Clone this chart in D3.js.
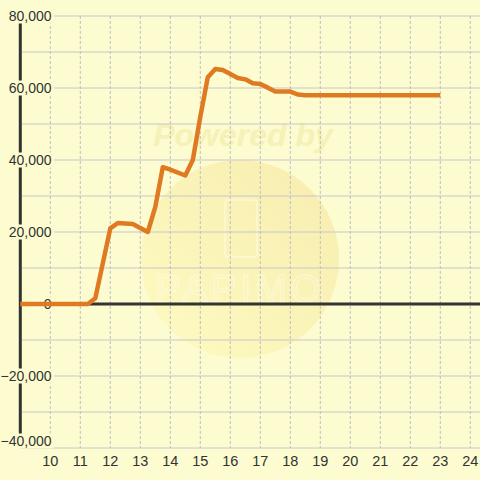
<!DOCTYPE html>
<html>
<head>
<meta charset="utf-8">
<script src="https://cdn.jsdelivr.net/npm/d3@7"></script>
<style>
  body {margin: 0; background: #fcfcd0;}
  svg {display: block;}
  text {font-family: "Liberation Sans", Arial, sans-serif;}
</style>
</head>
<body>
<svg id="chart"></svg>
<script>
//////////////// Daten ////////////////////
const stunden = [9, 11.25, 11.5, 12, 12.25, 12.75, 13.25, 13.5, 13.75, 14, 14.5, 14.75,
  15, 15.25, 15.5, 15.75, 16, 16.25, 16.5, 16.75, 17, 17.25, 17.5, 18, 18.25, 18.5, 23];
const werte = [0, 0, 1600, 21000, 22500, 22200, 20000, 27000, 38000, 37300, 35700, 40000,
  52000, 63000, 65300, 65000, 63900, 62800, 62400, 61300, 61100, 60100, 59000, 59000, 58200, 58000, 58000];

const xTicks = [10, 11, 12, 13, 14, 15, 16, 17, 18, 19, 20, 21, 22, 23, 24];
const yTicks = [-40000, -30000, -20000, -10000, 0, 10000, 20000, 30000, 40000, 50000, 60000, 70000, 80000];
const yLabels = [-40000, -20000, 0, 20000, 40000, 60000, 80000];

//////////////// Konstanten ////////////////////
const W = 480, H = 480,
  bg = "#fcfcd0",
  lineColor = "#e07a22";

const svg = d3.select("#chart").attr("width", W).attr("height", H);
svg.append("rect").attr("width", W).attr("height", H).attr("fill", bg);

const x = d3.scaleLinear().domain([9, 24]).range([20.3, 470.3]);
const y = d3.scaleLinear().domain([-40000, 80000]).range([448, 16]);

//////////////// Wasserzeichen ///////////////
const defs = svg.append("defs");
const grad = defs.append("linearGradient").attr("id", "wm")
  .attr("x1", "0%").attr("y1", "100%").attr("x2", "100%").attr("y2", "0%");
grad.append("stop").attr("offset", "0%").attr("stop-color", "#fff8a8").attr("stop-opacity", 0.35);
grad.append("stop").attr("offset", "100%").attr("stop-color", "#f0d070").attr("stop-opacity", 0.35);

const wm = svg.append("g").attr("class", "watermark");
wm.append("circle").attr("cx", 240).attr("cy", 259).attr("r", 99).attr("fill", "url(#wm)");
wm.append("text")
  .attr("x", 243).attr("y", 146)
  .attr("text-anchor", "middle")
  .style("font-size", "32px").style("font-weight", "bold").style("font-style", "italic")
  .attr("fill", "#f3eaa6").attr("opacity", 0.6)
  .text("Powered by");
wm.append("rect")
  .attr("x", 225).attr("y", 200).attr("width", 32).attr("height", 57).attr("rx", 3)
  .attr("fill", "none").attr("stroke", "#fffbe0").attr("stroke-width", 1.5).attr("opacity", 0.7);
wm.append("text")
  .attr("x", 240).attr("y", 302)
  .attr("text-anchor", "middle")
  .style("font-size", "38px").style("letter-spacing", "4px")
  .attr("fill", "none").attr("stroke", "#fffbe0").attr("stroke-width", 1.2).attr("opacity", 0.7)
  .text("PAPIMO");

//////////////// Gitter ///////////////
svg.append("g").selectAll("line.hgrid")
  .data(yTicks)
  .enter().append("line")
  .attr("class", "hgrid")
  .attr("x1", x(9)).attr("x2", W)
  .attr("y1", d => y(d)).attr("y2", d => y(d))
  .attr("stroke", "#c6c6cc").attr("stroke-width", 1);

svg.append("g").selectAll("line.vgrid")
  .data(xTicks)
  .enter().append("line")
  .attr("class", "vgrid")
  .attr("x1", d => x(d)).attr("x2", d => x(d))
  .attr("y1", y(80000)).attr("y2", y(-40000))
  .attr("stroke", "#bdbdc8").attr("stroke-width", 1)
  .attr("stroke-dasharray", "3,2");

//////////////// Achsen ///////////////
svg.append("line")
  .attr("x1", x(9)).attr("x2", W)
  .attr("y1", y(0)).attr("y2", y(0))
  .attr("stroke", "#333").attr("stroke-width", 3);
svg.append("line")
  .attr("x1", x(9)).attr("x2", x(9))
  .attr("y1", y(80000)).attr("y2", y(-40000))
  .attr("stroke", "#333").attr("stroke-width", 3);

// Beschriftung y mit Hintergrund, der Achse und Gitter verdeckt
const fmt = d3.format(",");
const yl = svg.append("g").selectAll("g.ylab")
  .data(yLabels)
  .enter().append("g")
  .attr("class", "ylab")
  .attr("transform", d => "translate(51.5," + Math.min(y(d), 441) + ")");
yl.append("rect").attr("class", "lbg");
yl.append("text")
  .attr("text-anchor", "end")
  .attr("dy", "0.35em")
  .style("font-size", "14px")
  .attr("fill", "#333")
  .text(d => fmt(d));
yl.each(function() {
  const b = d3.select(this).select("text").node().getBBox();
  d3.select(this).select("rect")
    .attr("x", b.x - 1).attr("y", -7.5)
    .attr("width", b.width + 3).attr("height", 15)
    .attr("fill", bg);
});

svg.append("g").selectAll("text.xlab")
  .data(xTicks)
  .enter().append("text")
  .attr("class", "xlab")
  .attr("x", d => x(d)).attr("y", 461)
  .attr("text-anchor", "middle")
  .attr("dy", "0.35em")
  .style("font-size", "14.5px")
  .attr("fill", "#333")
  .text(d => d);

//////////////// Linie ///////////////
const linie = d3.line()
  .x((d, i) => x(stunden[i]))
  .y(d => y(d));

svg.append("path")
  .datum(werte)
  .attr("d", linie)
  .attr("fill", "none")
  .attr("stroke", lineColor)
  .attr("stroke-width", 4.5)
  .attr("stroke-linejoin", "round");
</script>
</body>
</html>
